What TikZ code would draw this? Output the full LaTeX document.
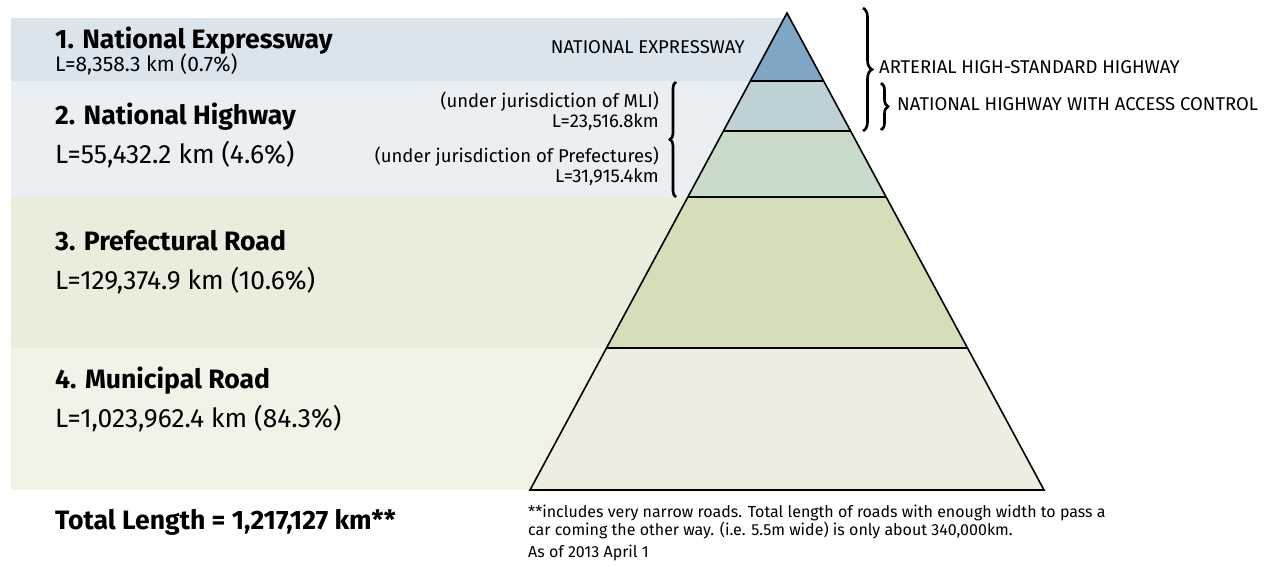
\documentclass[tikz,border=0pt]{standalone}
\usepackage{fontspec}
\setmainfont{Fira Sans}
\usetikzlibrary{calc,decorations.pathreplacing}

\definecolor{bandA}{HTML}{D9E4EC}
\definecolor{bandB}{HTML}{E9EFF2}
\definecolor{bandC}{HTML}{E9EDDC}
\definecolor{bandD}{HTML}{F2F2E6}
\definecolor{tierA}{HTML}{7FA7C5}
\definecolor{tierB}{HTML}{BDD1D6}
\definecolor{tierC}{HTML}{C8DCC9}
\definecolor{tierD}{HTML}{D4DFBA}
\definecolor{tierE}{HTML}{EFEDDF}

\begin{document}
\begin{tikzpicture}[x=1pt,y=-1pt,
  headtext/.style={anchor=base west,inner sep=0pt,font=\fontsize{26.6}{30}\selectfont\bfseries},
  bigtext/.style={anchor=base west,inner sep=0pt,font=\fontsize{26.4}{31}\selectfont},
  smalltext/.style={anchor=base west,inner sep=0pt,font=\fontsize{21}{25}\selectfont},
  labeltext/.style={inner sep=0pt,font=\fontsize{18.5}{22}\selectfont},
  notetext/.style={anchor=base west,inner sep=0pt,font=\fontsize{16}{19}\selectfont},
  tierline/.style={line width=1.6pt},
  bracestyle/.style={line width=2.6pt,decorate,decoration={brace,amplitude=#1}}
]
\useasboundingbox (0,0) rectangle (1267,566);

% background bands behind the pyramid
\fill[bandA] (11,18) rectangle (787,81);
\fill[bandB] (11,81) rectangle (787,197);
\fill[bandC] (11,197) rectangle (787,348);
\fill[bandD] (11,348) rectangle (787,490);

% pyramid corners
\coordinate (apex) at (787,13);
\coordinate (bl) at (530,490);
\coordinate (br) at (1044,490);
% tier boundaries on both edges
\foreach \n/\yy in {a/81,b/131,c/197,d/348}{
  \coordinate (L\n) at ($(apex)!{(\yy-13)/477}!(bl)$);
  \coordinate (R\n) at ($(apex)!{(\yy-13)/477}!(br)$);
}
\fill[tierA] (apex) -- (Ra) -- (La) -- cycle;
\fill[tierB] (La) -- (Ra) -- (Rb) -- (Lb) -- cycle;
\fill[tierC] (Lb) -- (Rb) -- (Rc) -- (Lc) -- cycle;
\fill[tierD] (Lc) -- (Rc) -- (Rd) -- (Ld) -- cycle;
\fill[tierE] (Ld) -- (Rd) -- (br) -- (bl) -- cycle;
\draw[tierline] (La) -- (Ra) (Lb) -- (Rb) (Lc) -- (Rc) (Ld) -- (Rd);
\draw[tierline,line join=miter] (apex) -- (br) -- (bl) -- cycle;

% category texts
\node[headtext] (h1) at (55,48) {1. National Expressway};
\node[smalltext] (v1) at (55,71) {L=8,358.3 km (0.7\%)};
\node[headtext] (h2) at (55,124) {2. National Highway};
\node[bigtext] (v2) at (55,163) {L=55,432.2 km (4.6\%)};
\node[headtext] (h3) at (55,250) {3. Prefectural Road};
\node[bigtext] (v3) at (55,289) {L=129,374.9 km (10.6\%)};
\node[headtext] (h4) at (55,388) {4. Municipal Road};
\node[bigtext] (v4) at (55,427) {L=1,023,962.4 km (84.3\%)};
\node[headtext] (tot) at (55,529) {Total Length = 1,217,127 km**};

% labels beside the pyramid
\node[labeltext,anchor=base east] (nex) at (745,53) {NATIONAL EXPRESSWAY};
\node[labeltext,anchor=base east] (mli1) at (659,107) {(under jurisdiction of MLI)};
\node[labeltext,anchor=base east] (mli2) at (659,127) {L=23,516.8km};
\node[labeltext,anchor=base east] (pre1) at (659,162) {(under jurisdiction of Prefectures)};
\node[labeltext,anchor=base east] (pre2) at (659,182) {L=31,915.4km};
\node[labeltext,anchor=base west] (ahs) at (879,73.5) {ARTERIAL HIGH-STANDARD HIGHWAY};
\node[labeltext,anchor=base west] (nhac) at (897,110.5) {NATIONAL HIGHWAY WITH ACCESS CONTROL};

% braces
\coordinate (b1s) at (676,197);
\coordinate (b1e) at (676,82);
\coordinate (b2s) at (863,8);
\coordinate (b2e) at (863,131);
\coordinate (b3s) at (881,83);
\coordinate (b3e) at (881,130);
\draw[bracestyle=6pt] (b1s) -- (b1e);
\draw[bracestyle=9pt] (b2s) -- (b2e);
\draw[bracestyle=7pt] (b3s) -- (b3e);

% footnote
\node[notetext] (n1) at (528,517) {**includes very narrow roads. Total length of roads with enough width to pass a};
\node[notetext] (n2) at (528,535) {car coming the other way. (i.e. 5.5m wide) is only about 340,000km.};
\node[notetext] (n3) at (528,557) {As of 2013 April 1};
\end{tikzpicture}
\end{document}
